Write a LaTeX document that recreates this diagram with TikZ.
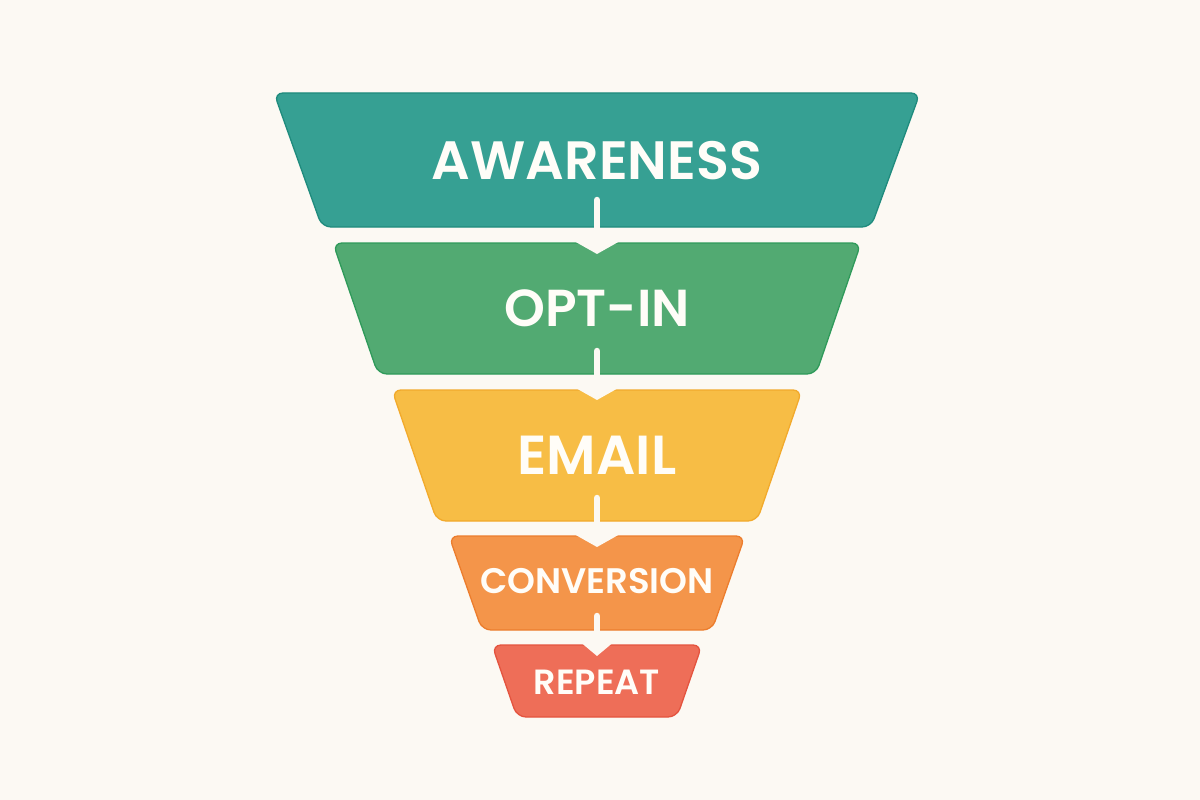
\documentclass[tikz,border=0pt]{standalone}
\usepackage{fontspec}
\setmainfont{Poppins}[BoldFont={Poppins SemiBold}]
\usetikzlibrary{arrows.meta}

\definecolor{bgcream}{HTML}{FCF9F3}
\definecolor{tealfill}{HTML}{36A093}
\definecolor{tealline}{HTML}{1F8B7D}
\definecolor{greenfill}{HTML}{52AA72}
\definecolor{greenline}{HTML}{2F9A5A}
\definecolor{yellowfill}{HTML}{F7BD45}
\definecolor{yellowline}{HTML}{F2AA2C}
\definecolor{orangefill}{HTML}{F4954A}
\definecolor{orangeline}{HTML}{EC7D2D}
\definecolor{redfill}{HTML}{EE6E58}
\definecolor{redline}{HTML}{E4543F}
\definecolor{textwhite}{HTML}{FFFDF8}

\tikzset{
  stage/.style={line width=1.3pt, rounded corners=9pt},
  stagetext/.style={text=textwhite, inner sep=0pt},
  flow/.style={draw=bgcream, line width=6.5pt, line cap=round, -{Triangle[width=#1, length=12pt]}},
  flow/.default=42pt
}

\begin{document}
\begin{tikzpicture}[x=1pt,y=-1pt]

\fill[bgcream] (0,0) rectangle (1200,800);

\filldraw[stage, fill=tealfill,   draw=tealline]   (274,93)  -- (920,93)  -- (871,227) -- (322,227) -- cycle;
\filldraw[stage, fill=greenfill,  draw=greenline]  (333,243) -- (861,243) -- (816,374) -- (378,374) -- cycle;
\filldraw[stage, fill=yellowfill, draw=yellowline] (392,390) -- (802,390) -- (757,521) -- (437,521) -- cycle;
\filldraw[stage, fill=orangefill, draw=orangeline] (449,536) -- (745,536) -- (712,630) -- (482,630) -- cycle;
\filldraw[stage, fill=redfill,    draw=redline]    (492,645) -- (702,645) -- (677,717) -- (517,717) -- cycle;

\node[stagetext, font=\fontsize{54pt}{54pt}\selectfont\bfseries] (awareness)  at (597,161) {AWARENESS};
\node[stagetext, font=\fontsize{52pt}{52pt}\selectfont\bfseries] (optin)      at (597,308) {OPT-IN};
\node[stagetext, font=\fontsize{55pt}{55pt}\selectfont\bfseries] (email)      at (597,455) {EMAIL};
\node[stagetext, font=\fontsize{35.5pt}{35.5pt}\selectfont\bfseries] (conversion) at (597,581) {CONVERSION};
\node[stagetext, font=\fontsize{35pt}{35pt}\selectfont\bfseries] (repeat)     at (597,682) {REPEAT};

\coordinate (awareness-out)  at (597,200);
\coordinate (optin-in)       at (597,254);
\coordinate (optin-out)      at (597,351);
\coordinate (email-in)       at (597,400);
\coordinate (email-out)      at (597,498);
\coordinate (conversion-in)  at (597,547);
\coordinate (conversion-out) at (597,616);
\coordinate (repeat-in)      at (597,656);

\draw[flow]      (awareness-out)  -- (optin-in);
\draw[flow]      (optin-out)      -- (email-in);
\draw[flow]      (email-out)      -- (conversion-in);
\draw[flow=28pt] (conversion-out) -- (repeat-in);

\end{tikzpicture}
\end{document}
